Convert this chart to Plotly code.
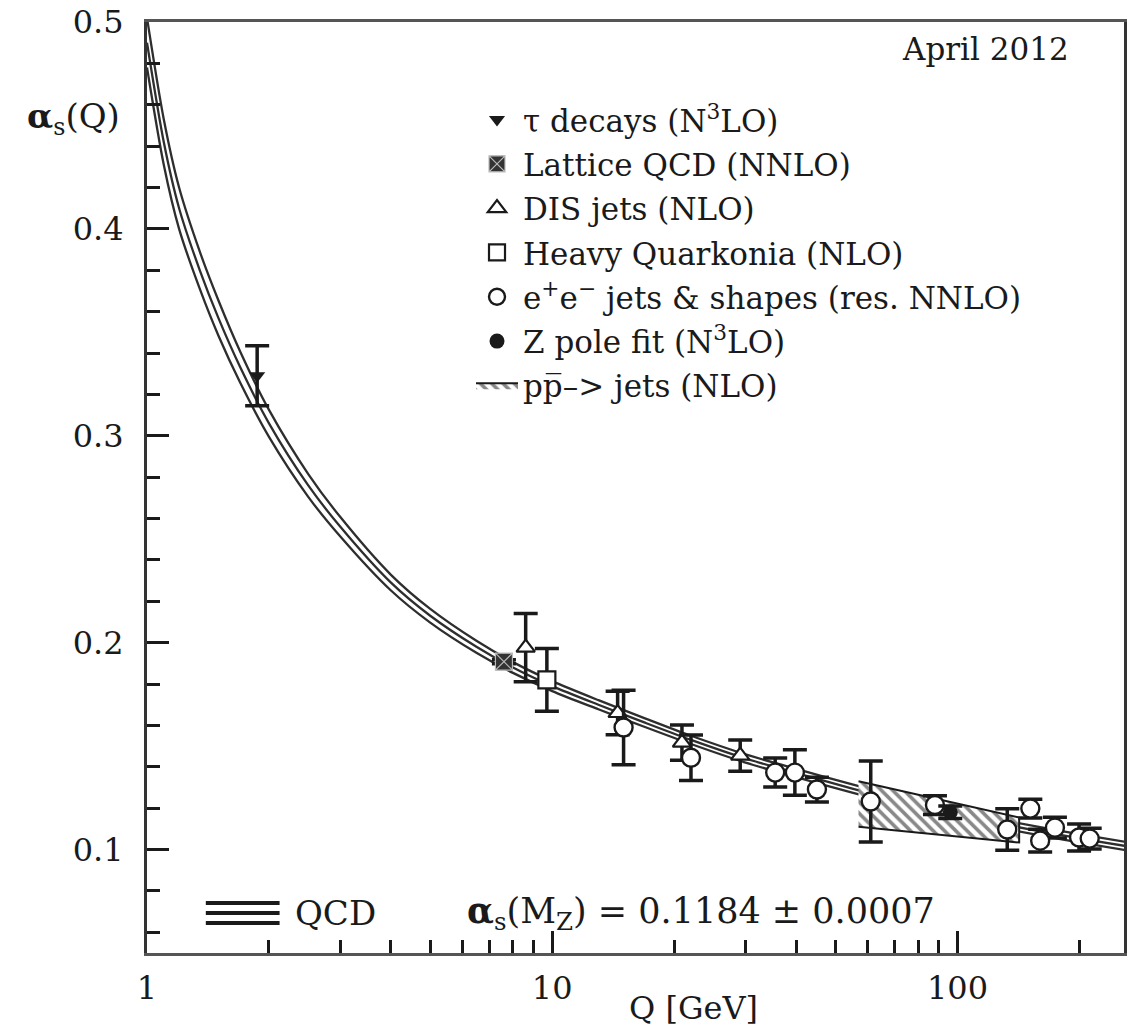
import plotly.graph_objects as go

# ---- running coupling band (QCD, alpha_s(MZ) = 0.1184 +- 0.0007) ----
curve_q = [1.0, 1.1, 1.2, 1.35, 1.5, 1.7, 2.0, 2.5, 3.0, 4.0, 5.0, 6.5, 8.0, 10, 13, 17,
           22, 30, 40, 55, 70, 91.2, 120, 160, 210, 258]
curve_mid = [0.490, 0.442, 0.410, 0.380, 0.357, 0.333, 0.306, 0.276, 0.256, 0.229, 0.213,
             0.198, 0.188, 0.179, 0.170, 0.1612, 0.1530, 0.1440, 0.1370, 0.1295, 0.1240,
             0.1184, 0.1135, 0.1088, 0.1047, 0.1018]
curve_hi = [0.502, 0.453, 0.420, 0.389, 0.3655, 0.3405, 0.3125, 0.2815, 0.2607, 0.2328, 0.2163,
            0.2009, 0.1906, 0.1814, 0.1722, 0.1633, 0.1550, 0.1460, 0.1390, 0.1315, 0.1260,
            0.1204, 0.1155, 0.1108, 0.1067, 0.1038]
curve_lo = [0.478, 0.431, 0.400, 0.371, 0.3485, 0.3255, 0.2995, 0.2705, 0.2513, 0.2252, 0.2097,
            0.1951, 0.1854, 0.1766, 0.1678, 0.1591, 0.1510, 0.1420, 0.1350, 0.1275, 0.1220,
            0.1164, 0.1115, 0.1068, 0.1027, 0.0998]

# ---- measurements ----
tau_q, tau_a, tau_err = [1.87], [0.329], [0.0145]
lat_q, lat_a, lat_err = [7.6], [0.1908], [0.001]
dis_q = [8.6, 14.5, 20.9, 29.1]
dis_a = [0.1976, 0.166, 0.1517, 0.1454]
dis_err = [0.0165, 0.0105, 0.0085, 0.0075]
hq_q, hq_a, hq_err = [9.7], [0.182], [0.0152]
ee_q = [15.0, 22.0, 35.5, 39.7, 45.0, 61.1, 88.0, 132.7, 151.3, 160.0, 174.0, 199.6, 212.0]
ee_a = [0.159, 0.1444, 0.1372, 0.1372, 0.129, 0.1232, 0.1215, 0.1097, 0.1198, 0.1043,
        0.1106, 0.1058, 0.1053]
ee_err = [0.018, 0.011, 0.007, 0.011, 0.006, 0.0196, 0.0045, 0.010, 0.0045, 0.0055,
          0.005, 0.0065, 0.005]
zp_q, zp_a, zp_err = [96.0], [0.118], [0.003]
ppbar_q = [57.0, 142.0]
ppbar_hi = [0.133, 0.1155]
ppbar_lo = [0.111, 0.1034]

# ---- axis ticks ----
x_major = [1, 10, 100]
x_major_text = ["1", "10", "100"]
x_minor = [2, 3, 4, 5, 6, 7, 8, 9, 20, 30, 40, 50, 60, 70, 80, 90, 200]
y_major = [0.1, 0.2, 0.3, 0.4, 0.5]
y_major_text = ["0.1", "0.2", "0.3", "0.4", "0.5"]
y_minor = [0.06, 0.08, 0.12, 0.14, 0.16, 0.18, 0.22, 0.24, 0.26, 0.28, 0.32, 0.34, 0.36,
           0.38, 0.42, 0.44, 0.46, 0.48]

FONT = "DejaVu Serif"
INK = "#1a1a1a"

fig = go.Figure()

for ys in (curve_hi, curve_mid, curve_lo):
    fig.add_trace(go.Scatter(x=curve_q, y=ys, mode="lines", showlegend=False,
                             line=dict(color="#2e2e2e", width=2.3, shape="spline",
                                       smoothing=0.8),
                             hoverinfo="skip"))

fig.add_trace(go.Scatter(
    x=ppbar_q + ppbar_q[::-1], y=ppbar_hi + ppbar_lo[::-1],
    mode="lines", fill="toself", fillcolor="white",
    fillpattern=dict(shape="\\", fgcolor="#111111", bgcolor="white", size=8, solidity=0.45),
    line=dict(color=INK, width=2),
    name="pp\u0305\u2013> jets (NLO)", legendgroup="g7", legendrank=7))


def err(v):
    return dict(type="data", array=v, visible=True, color=INK, thickness=3.5, width=12)


fig.add_trace(go.Scatter(
    x=tau_q, y=tau_a, mode="markers", error_y=err(tau_err),
    marker=dict(symbol="triangle-down", size=14, color=INK),
    name="\u03c4 decays (N<sup>3</sup>LO)", legendgroup="g1", legendrank=1))
fig.add_trace(go.Scatter(
    x=lat_q, y=lat_a, mode="markers", error_y=err(lat_err),
    marker=dict(symbol="square-x", size=17, color="#333333",
                line=dict(color="#bbbbbb", width=1.2)),
    name="Lattice QCD (NNLO)", legendgroup="g2", legendrank=2))
fig.add_trace(go.Scatter(
    x=dis_q, y=dis_a, mode="markers", error_y=err(dis_err),
    marker=dict(symbol="triangle-up", size=16, color="white", line=dict(color=INK, width=2.2)),
    name="DIS jets (NLO)", legendgroup="g3", legendrank=3))
fig.add_trace(go.Scatter(
    x=hq_q, y=hq_a, mode="markers", error_y=err(hq_err),
    marker=dict(symbol="square", size=17, color="white", line=dict(color=INK, width=2.2)),
    name="Heavy Quarkonia (NLO)", legendgroup="g4", legendrank=4))
fig.add_trace(go.Scatter(
    x=ee_q, y=ee_a, mode="markers", error_y=err(ee_err),
    marker=dict(symbol="circle", size=18, color="white", line=dict(color=INK, width=2.4)),
    name="e<sup>+</sup>e<sup>\u2212</sup> jets &amp; shapes (res. NNLO)",
    legendgroup="g5", legendrank=5))
fig.add_trace(go.Scatter(
    x=zp_q, y=zp_a, mode="markers", error_y=err(zp_err),
    marker=dict(symbol="circle", size=15, color=INK),
    name="Z pole fit (N<sup>3</sup>LO)", legendgroup="g6", legendrank=6))

# pixel edges of the plot area, used to place paper-space text
L, R, T, B = 147, 1127, 21, 953


def px(xp):
    return (xp - L) / (R - L)


def py(yp):
    return (B - yp) / (B - T)


annotations = [
    dict(text="April 2012", x=px(988), y=py(48), font=dict(size=31)),
    dict(text="<b>\u03b1</b><sub>s</sub>(Q)", x=px(73), y=py(118), font=dict(size=34)),
    dict(text="Q [GeV]", x=px(695), y=py(1008), font=dict(size=32)),
    dict(text="QCD", x=px(293), y=py(913), xanchor="left", font=dict(size=34)),
    dict(text="<b>\u03b1</b><sub>s</sub>(M<sub>Z</sub>) = 0.1184 \u00b1 0.0007",
         x=px(466), y=py(913), xanchor="left", font=dict(size=35)),
]
for a in annotations:
    a.setdefault("xanchor", "center")
    a.update(xref="paper", yref="paper", yanchor="middle", showarrow=False)

shapes = [dict(type="line", xref="paper", yref="paper", x0=px(206), x1=px(280),
               y0=py(yy), y1=py(yy), line=dict(color=INK, width=4))
          for yy in (903, 913, 923)]

fig.update_layout(
    width=1130, height=1027,
    margin=dict(l=L, r=1130 - R, t=T, b=1027 - B),
    paper_bgcolor="white", plot_bgcolor="white",
    font=dict(family=FONT, color=INK, size=30),
    annotations=annotations, shapes=shapes,
    showlegend=True,
    legend=dict(x=px(472), y=py(92), xanchor="left", yanchor="top",
                bgcolor="rgba(0,0,0,0)", font=dict(size=31, family=FONT),
                tracegroupgap=1, itemwidth=42),
    xaxis=dict(type="log", range=[0, 2.411], tickmode="array", tickvals=x_major,
               ticktext=x_major_text, ticks="inside", ticklen=22, tickwidth=3,
               tickcolor=INK, showline=True, linecolor="#555555", linewidth=3, mirror=True,
               showgrid=False, zeroline=False, tickfont=dict(size=32),
               ticklabelstandoff=5,
               minor=dict(tickmode="array", tickvals=x_minor, ticks="inside", ticklen=13,
                          tickwidth=3, tickcolor=INK, showgrid=False)),
    yaxis=dict(range=[0.05, 0.5], tickmode="array", tickvals=y_major, ticktext=y_major_text,
               ticks="inside", ticklen=22, tickwidth=3, tickcolor=INK, showline=True,
               linecolor="#333333", linewidth=3, mirror=True, showgrid=False,
               zeroline=False, tickfont=dict(size=32), ticklabelstandoff=14,
               minor=dict(tickmode="array", tickvals=y_minor, ticks="inside", ticklen=13,
                          tickwidth=3, tickcolor=INK, showgrid=False)),
)

fig.write_html("out.html")
